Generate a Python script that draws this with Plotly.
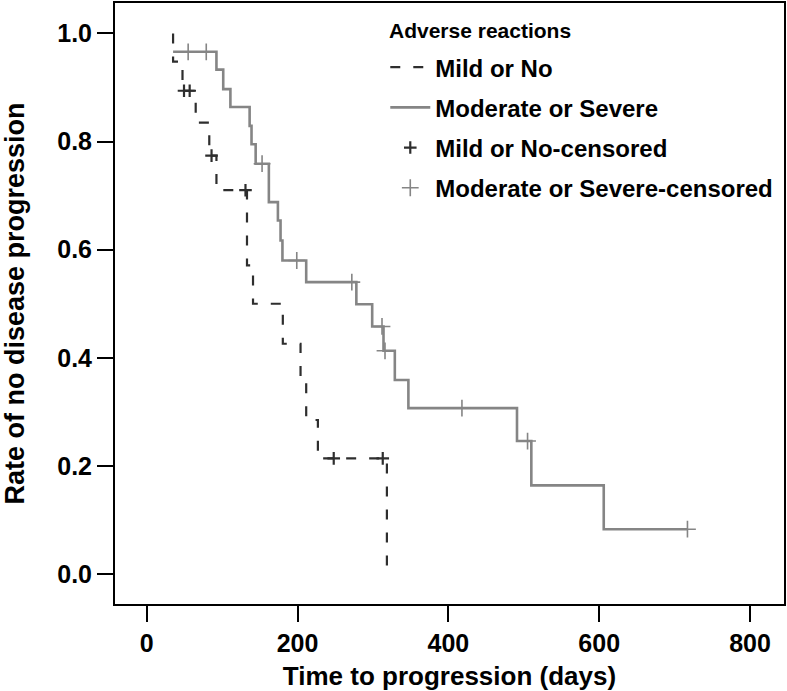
import plotly.graph_objects as go

# ---- data ----
# Mild or No adverse reactions (dashed step curve)
mild_t = [35, 35, 47.5, 65, 83, 92.5, 133, 141, 180.5, 204, 211.5, 227, 318.5, 318.5]
mild_s = [1.0, 0.948, 0.894, 0.835, 0.774, 0.710, 0.571, 0.500, 0.426, 0.357, 0.285, 0.214, 0.214, 0.0]
mild_cens_t = [49.5, 57, 86, 131, 248, 313]
mild_cens_s = [0.894, 0.894, 0.774, 0.710, 0.214, 0.214]

# Moderate or Severe adverse reactions (solid step curve)
mod_t = [35, 92.5, 101.5, 111, 136.5, 139, 144.5, 162, 174, 177.5, 180, 211.5, 278, 299,
         314, 329, 347, 491, 510, 606, 717]
mod_s = [0.966, 0.933, 0.897, 0.864, 0.829, 0.795, 0.759, 0.688, 0.654, 0.617, 0.580, 0.540,
         0.499, 0.458, 0.413, 0.359, 0.307, 0.246, 0.164, 0.083, 0.083]
mod_cens_t = [55, 79, 153, 199, 272, 312, 316, 418, 505, 717]
mod_cens_s = [0.966, 0.966, 0.759, 0.580, 0.540, 0.458, 0.413, 0.307, 0.246, 0.083]

x_ticks = [0, 200, 400, 600, 800]
y_ticks = [0.0, 0.2, 0.4, 0.6, 0.8, 1.0]
y_tick_text = ["0.0", "0.2", "0.4", "0.6", "0.8", "1.0"]

FONT = "Liberation Sans, Arial, Helvetica, sans-serif"
DARK = "#2e2e2e"
GRAY = "#858585"

fig = go.Figure()
fig.add_trace(go.Scatter(
    x=mild_t, y=mild_s, mode="lines", line_shape="hv", name="Mild or No",
    line=dict(color=DARK, width=2.2, dash="10px,13px"), legendgroup="a"))
fig.add_trace(go.Scatter(
    x=mod_t, y=mod_s, mode="lines", line_shape="hv", name="Moderate or Severe",
    line=dict(color=GRAY, width=2.6), legendgroup="b"))
fig.add_trace(go.Scatter(
    x=mild_cens_t, y=mild_cens_s, mode="markers", name="Mild or No-censored",
    marker=dict(symbol="cross-thin-open", size=9, color=DARK, line=dict(color=DARK, width=2.2)),
    legendgroup="c"))
fig.add_trace(go.Scatter(
    x=mod_cens_t, y=mod_cens_s, mode="markers", name="Moderate or Severe-censored",
    marker=dict(symbol="cross-thin-open", size=12, color=GRAY, line=dict(color=GRAY, width=1.6)),
    legendgroup="d"))

axis_common = dict(
    showline=True, linecolor="black", linewidth=2, mirror=True,
    showgrid=False, zeroline=False,
    ticks="outside", ticklen=16, tickwidth=2, tickcolor="black",
    tickfont=dict(family=FONT, size=25, color="black", weight="bold"),
)

fig.update_layout(
    width=787, height=691,
    margin=dict(l=115, r=1, t=2, b=87),
    paper_bgcolor="white", plot_bgcolor="white",
    font=dict(family=FONT, color="black"),
    xaxis=dict(
        range=[-42, 845], tickvals=x_ticks,
        title=dict(text="Time to progression (days)", standoff=12,
                   font=dict(family=FONT, size=26, color="black", weight="bold")),
        **axis_common),
    yaxis=dict(
        range=[-0.0554, 1.0563], tickvals=y_ticks, ticktext=y_tick_text,
        title=dict(text="Rate of no disease progression", standoff=28,
                   font=dict(family=FONT, size=27, color="black", weight="bold")),
        **axis_common),
    legend=dict(
        x=0.404, y=0.930, xanchor="left", yanchor="top",
        bgcolor="rgba(0,0,0,0)", borderwidth=0,
        font=dict(family=FONT, size=24, color="black", weight="bold"),
        traceorder="grouped", tracegroupgap=6, itemwidth=40,
    ),
    annotations=[dict(
        text="Adverse reactions", xref="paper", yref="paper",
        x=0.406, y=0.9535, xanchor="left", yanchor="middle", showarrow=False,
        font=dict(family=FONT, size=21, color="black", weight="bold"))],
)

fig.write_html("out.html", config={"displayModeBar": False},
               post_script="document.body.style.margin='0px';")
